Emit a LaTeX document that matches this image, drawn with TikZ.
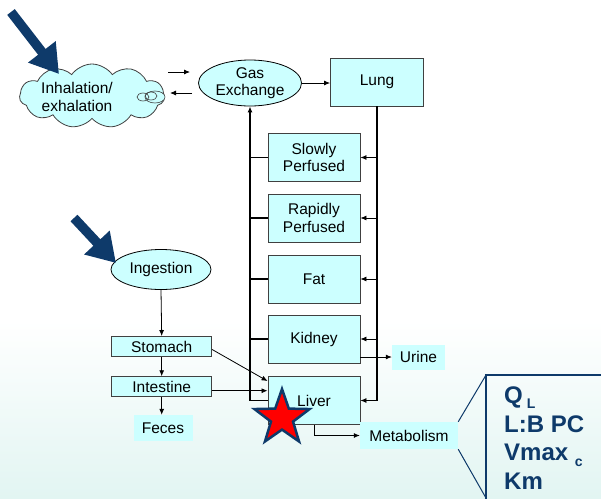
\documentclass[tikz,border=0pt]{standalone}
\usepackage{fontspec}
\setmainfont{Liberation Sans}
\usetikzlibrary{shapes.geometric,shapes.symbols,arrows.meta}
\definecolor{boxfill}{HTML}{CCFFFF}
\definecolor{navy}{HTML}{0E3A6A}
\definecolor{edgegray}{HTML}{404040}
\definecolor{bgbottom}{RGB}{226,245,242}
\begin{document}
\begin{tikzpicture}[x=1pt,y=-1pt,
  font=\fontsize{15.5}{17.5}\selectfont,
  box/.style={draw=edgegray, fill=boxfill, line width=0.9pt, minimum width=92pt, minimum height=48pt, align=center, inner sep=0pt},
  smallbox/.style={draw=edgegray, fill=boxfill, line width=0.9pt, minimum width=100pt, minimum height=20pt, inner sep=0pt},
  flat/.style={fill=boxfill, inner sep=0pt},
  ell/.style={ellipse, draw=black, fill=boxfill, line width=0.8pt, align=center, inner sep=0pt},
  conn/.style={-{Latex[length=6pt,width=5pt]}, line width=0.8pt},
  trunk/.style={line width=1.3pt},
  bigarrow/.style={navy, line width=9.5pt, -{Triangle[length=28pt,width=33pt]}},
  param/.style={anchor=base west, text=navy, font=\bfseries\fontsize{24}{28}\selectfont, inner sep=0pt}
]
\useasboundingbox (0,0) rectangle (601,498);
% background
\fill[white] (0,0) rectangle (601,320);
\shade[top color=white, bottom color=bgbottom] (0,320) rectangle (601,498);

% cloud
\node[cloud, cloud puffs=11, cloud puff arc=110, aspect=2.2, draw=edgegray, fill=boxfill, line width=0.8pt,
      minimum width=145pt, minimum height=64pt] (cloud) at (92,96) {};
\draw[edgegray, fill=boxfill, line width=0.6pt] (155,97) ellipse (10pt and 6pt);
\draw[edgegray, line width=0.6pt] (143,97) ellipse (6pt and 4pt);
\draw[edgegray, line width=0.6pt] (151,96) ellipse (6pt and 4pt);
\node[align=center, inner sep=0pt] (cloudtxt) at (77,97) {Inhalation/\\exhalation};

% gas exchange and lung
\node[ell, minimum width=103pt, minimum height=46pt] (gas) at (250,83) {Gas\\Exchange};
\node[box, minimum width=93pt] (lung) at (377,82) {Lung};

% compartments
\node[box] (slow) at (314,157.5) {Slowly\\Perfused};
\node[box] (rapid) at (314,218) {Rapidly\\Perfused};
\node[box] (fat) at (314,279) {Fat};
\node[box] (kidney) at (314,339) {Kidney};
\node[box] (liver) at (314,400.5) {Liver};

\node[flat, minimum width=53pt, minimum height=25pt] (urine) at (418.5,357) {Urine};
\node[flat, minimum width=98pt, minimum height=27pt] (metab) at (409,435.5) {Metabolism};

% oral path
\node[ell, minimum width=100pt, minimum height=40pt] (ingest) at (161,269.5) {Ingestion};
\node[smallbox] (stomach) at (161.7,346.5) {Stomach};
\node[smallbox] (intest) at (161.7,386.7) {Intestine};
\node[flat, minimum width=59pt, minimum height=26pt] (feces) at (163,428) {Feces};

% inhalation arrows
\coordinate (inA) at (168,72);
\coordinate (inB) at (190,72);
\coordinate (exA) at (192,93);
\coordinate (exB) at (170,93);
\draw[conn] (inA) -- (inB);
\draw[conn] (exA) -- (exB);

% gas -> lung
\draw[conn] (gas.east) -- (lung.west |- gas.east);

% right trunk
\draw[trunk] (lung.south) -- (lung.south |- liver.east);
\draw[conn] (lung.south |- slow.east) -- (slow.east);
\draw[conn] (lung.south |- rapid.east) -- (rapid.east);
\draw[conn] (lung.south |- fat.east) -- (fat.east);
\draw[conn] (lung.south |- kidney.east) -- (kidney.east);
\draw[conn] (lung.south |- liver.east) -- (liver.east);

% left trunk
\draw[trunk,-{Latex[length=6pt,width=5pt]}] (liver.west) -| (gas.south);
\draw[trunk] (slow.west) -- (slow.west -| gas.south);
\draw[trunk] (rapid.west) -- (rapid.west -| gas.south);
\draw[trunk] (fat.west) -- (fat.west -| gas.south);
\draw[trunk] (kidney.west) -- (kidney.west -| gas.south);

% urine and metabolism
\draw[conn] (kidney.east |- urine.west) -- (urine.west);
\draw[conn] (liver.south) |- (metab.west);

% oral connectors
\draw[conn] (ingest.south) -- (stomach.north);
\draw[conn] (stomach.south) -- (intest.north);
\draw[conn] (intest.south) -- (feces.north -| intest.south);
\draw[conn] ([yshift=-3pt]stomach.east) -- ([yshift=-5pt]liver.north west);
\draw[conn] ([yshift=-4pt]intest.east) -- ([yshift=-4pt]intest.east -| liver.west);

% big arrows
\coordinate (arr1s) at (11,12);
\coordinate (arr1e) at (59,74);
\coordinate (arr2s) at (74,218);
\coordinate (arr2e) at (116,263);
\draw[bigarrow] (arr1s) -- (arr1e);
\draw[bigarrow] (arr2s) -- (arr2e);

% star
\node[star, star points=5, star point ratio=2.5, minimum size=58pt, inner sep=0pt,
      fill=red, draw=navy, line width=2.5pt] (star) at (282,418) {};

% parameter box
\coordinate (pbTop) at (486,375);
\coordinate (pbBot) at (486,500);
\coordinate (pbRight) at (605,375);
\draw[navy, line width=2pt] (pbRight) -- (pbTop) -- (pbBot);
\draw[navy, line width=1pt] (metab.north east) -- (pbTop);
\draw[navy, line width=1pt] (metab.south east) -- (486,498);
\node[param] (pQ) at (504,403) {Q\,\raisebox{-5pt}{\fontsize{14}{14}\selectfont L}};
\node[param] (pL) at (504,432) {L:B PC};
\node[param] (pV) at (504,460) {Vmax \raisebox{-6pt}{\fontsize{14}{14}\selectfont c}};
\node[param] (pK) at (504,489) {Km};
\end{tikzpicture}
\end{document}
